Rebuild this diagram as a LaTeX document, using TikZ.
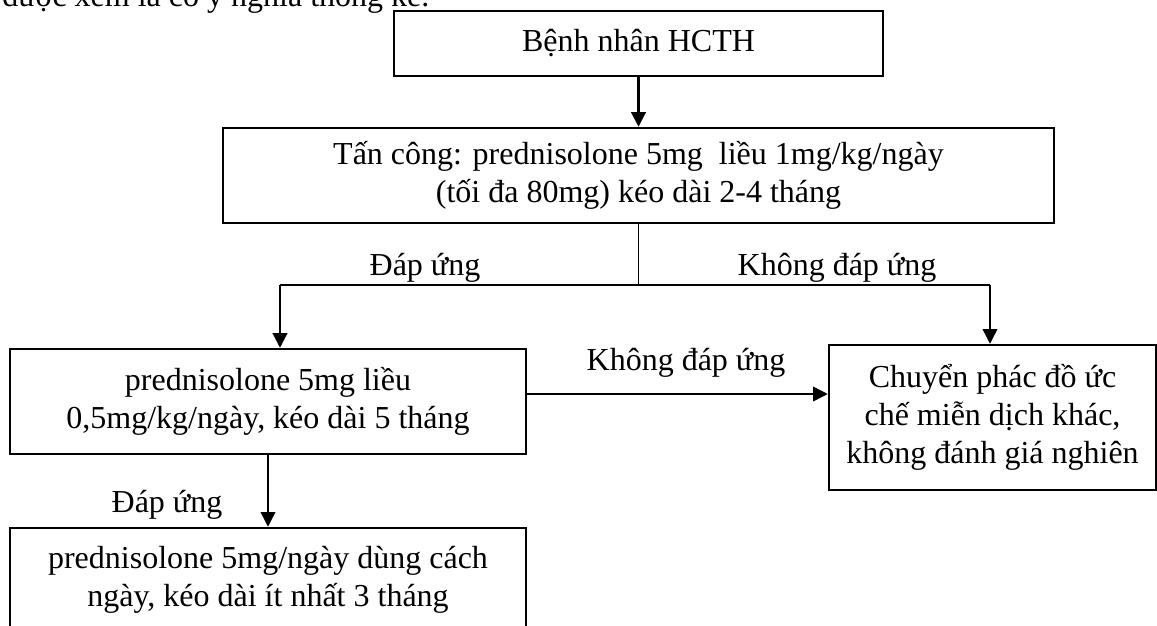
\documentclass[tikz,border=0pt]{standalone}
\usepackage{fontspec}
\setmainfont{Liberation Serif}
\usetikzlibrary{arrows.meta}
\tikzset{
  box/.style={draw, line width=1.9pt, rectangle, inner sep=0pt, align=center},
  lbl/.style={anchor=base, inner sep=0pt},
  conn/.style={line width=1.1pt},
  arr/.style={line width=1.1pt, -{Triangle[length=11pt,width=11pt]}},
  arrthick/.style={line width=1.6pt, -{Triangle[length=11pt,width=11pt]}}
}
\begin{document}
\begin{tikzpicture}[x=0.75pt,y=-0.75pt,font=\fontsize{24pt}{28.5pt}\selectfont]
\useasboundingbox (0,0) rectangle (1157,625);
% cut-off text at the top
\node[anchor=base west, inner sep=0pt] (top) at (2,6) {được xem là có ý nghĩa thống kê.};
% boxes
\node[box, minimum width=366.75pt, minimum height=48.75pt] (b1) at (638.5,43.5) {Bệnh nhân HCTH};
\node[box, minimum width=623.25pt, minimum height=71.25pt] (b2) at (638.5,175.5) {Tấn công: prednisolone 5mg~ liều 1mg/kg/ngày\\(tối đa 80mg) kéo dài 2-4 tháng};
\node[box, minimum width=387pt, minimum height=78.75pt] (b3) at (268,401.5) {prednisolone 5mg liều\\0,5mg/kg/ngày, kéo dài 5 tháng};
\node[box, minimum width=245.25pt, minimum height=108.75pt] (b4) at (992.5,417.5) {Chuyển phác đồ ức\\chế miễn dịch khác,\\không đánh giá nghiên};
\node[box, minimum width=387pt, minimum height=78pt] (b5) at (268,580) {prednisolone 5mg/ngày dùng cách\\ngày, kéo dài ít nhất 3 tháng};
% helper coordinates
\coordinate (split) at (638.5,285);
\coordinate (lc) at (280,285);
\coordinate (rc) at (990,285);
\coordinate (mid) at (680,394);
% connectors
\draw[arrthick] (b1) -- (b2);
\draw[conn] (b2.south) -- (split);
\draw[conn] (lc) -- (rc);
\draw[arrthick] (lc) -- (lc |- b3.north);
\draw[arr] (rc) -- (rc |- b4.north);
\draw[arr] (b3.east |- mid) -- (b4.west |- mid);
\draw[arr] (b3) -- (b5);
% labels
\node[lbl] (l1) at (425,275) {Đáp ứng};
\node[lbl] (l2) at (837,275) {Không đáp ứng};
\node[lbl] (l3) at (686,370) {Không đáp ứng};
\node[lbl] (l4) at (167,512) {Đáp ứng};
\end{tikzpicture}
\end{document}
